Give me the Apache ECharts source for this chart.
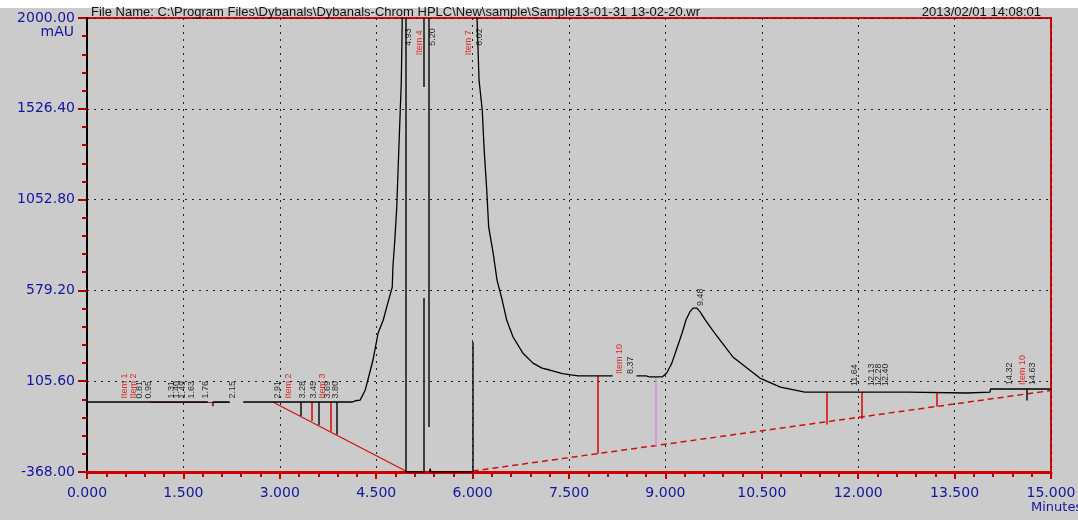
<!DOCTYPE html>
<html>
<head>
<meta charset="utf-8">
<title>HPLC chromatogram</title>
<script src="https://cdn.jsdelivr.net/npm/echarts@6/dist/echarts.min.js"></script>
<style>
  html, body { margin: 0; padding: 0; background: #cbcbcb; }
  #chart { width: 1078px; height: 520px; }
</style>
</head>
<body>
<div id="chart"></div>
<script>
// axis ticks (minutes / mAU)
var xTicks = [0, 1.5, 3, 4.5, 6, 7.5, 9, 10.5, 12, 13.5, 15];
var yTicks = [-368, 105.6, 579.2, 1052.8, 1526.4, 2000];

// detector trace, null = pen up
var traceTime = [
  0, 1.88, null, 1.96, 1.96, 2.22, null,
  2.43, 4.12, 4.20, 4.25, 4.33, 4.37, 4.45, 4.53, 4.61, 4.68, 4.75, 4.76, 4.79, 4.82, 4.85, 4.89, 4.90, 4.92, null,
  4.96, 5.24, null, 5.33, 5.34, 5.35, 6.00, null,
  6.06, 6.07, 6.10, 6.15, 6.18, 6.22, 6.25, 6.32, 6.38, 6.46, 6.53, 6.63, 6.78, 6.94, 7.08, 7.20, 7.40, 7.64, 8.18, null,
  8.55, 8.70, 8.75, 8.95, 9.02, 9.10, 9.17, 9.26, 9.32, 9.38, 9.43, 9.49, 9.54, 9.62, 9.73, 9.85, 10.05, 10.27, 10.47,
  10.79, 11.17, 12.77, 12.78, 13.69, 13.70, 14.05, 14.06, 15.0
];
var traceValue = [
  -3, -3, null, -25, -3, -3, null,
  -3, -3, 5, 7, 60, 112, 216, 357, 425, 513, 597, 701, 842, 1014, 1296, 1661, 1870, 2400, null,
  -368, -368, null, -368, -350, -368, -368, null,
  2300, 1990, 1677, 1520, 1312, 1103, 910, 774, 633, 529, 425, 336, 253, 200, 174, 164, 145, 133, 133, null,
  133, 133, 128, 128, 148, 200, 268, 357, 425, 467, 487, 487, 467, 425, 373, 320, 232, 174, 122,
  75, 49, 49, 44, 44, 49, 49, 65, 65
];

// vertical drop lines: time, top, bottom
var blackDropTime = [3.33, 3.61, 3.88, 4.96, 5.24, 5.24, 5.32, 6.00, 14.63];
var blackDropTop = [-3, -3, -3, 2000, 540, 2000, 2000, 310, 65];
var blackDropBottom = [-76, -123, -173, -368, -368, 1640, -133, -368, 5];
var redDropTime = [3.49, 3.79, 7.94, 11.51, 12.06, 13.23];
var redDropTop = [-3, -3, 133, 49, 49, 44];
var redDropBottom = [-102, -157, -272, -120, -92, -27];
var pinkDropTime = [8.85];
var pinkDropTop = [128];
var pinkDropBottom = [-232];

// integration baselines [start, end]
var baseSolid = [[[0.98, -3], [2.22, -3]], [[2.89, -3], [4.96, -363]]];
var baseDashed = [[[6.0, -363], [15.0, 57]]];

// peak annotations (rotated text)
var labelTime = [0.59, 0.72, 0.82, 0.95, 1.31, 1.40, 1.49, 1.63, 1.84, 2.27,
  2.97, 3.14, 3.35, 3.53, 3.66, 3.75, 3.86,
  5.01, 5.18, 5.37, 5.93, 6.11,
  8.28, 8.45, 9.54,
  11.95, 12.21, 12.32, 12.43,
  14.36, 14.55, 14.72];
var labelLevel = [10, 10, 10, 10, 10, 10, 10, 10, 10, 10,
  10, 10, 10, 10, 10, 10, 10,
  1850, 1800, 1850, 1800, 1850,
  138, 138, 493,
  75, 75, 75, 75,
  80, 80, 80];
var labelText = ['Item 1', 'Item 2', '0.81', '0.95', '1.31', '1.40', '1.49', '1.63', '1.76', '2.15',
  '2.91', 'Item 2', '3.28', '3.45', 'Item 3', '3.69', '3.80',
  '4.93', 'Item 4', '5.20', 'Item 7', '6.02',
  'Item 10', '8.37', '9.48',
  '11.64', '12.13', '12.28', '12.40',
  '14.32', 'Item 10', '14.63'];

function drops(time, top, bottom) {
  return time.map(function (t, i) { return { coords: [[t, top[i]], [t, bottom[i]]] }; });
}

var trace = traceTime.map(function (t, i) {
  return t === null ? ['-', '-'] : [t, traceValue[i]];
});

var labels = labelTime.map(function (t, i) {
  var isItem = labelText[i].indexOf('Item') === 0;
  return {
    value: [t, labelLevel[i]],
    label: { formatter: labelText[i], color: isItem ? '#e00000' : '#000' }
  };
});

var chart = echarts.init(document.getElementById('chart'));
var axisFont = { fontFamily: 'DejaVu Sans', fontSize: 14, color: '#1414a0' };
var headFont = { fontFamily: 'Liberation Sans', fontSize: 13, fontWeight: 'normal', color: '#111' };

chart.setOption({
  backgroundColor: '#cbcbcb',
  animation: false,
  title: [
    {
      text: 'File Name: C:\\Program Files\\Dybanals\\Dybanals-Chrom HPLC\\New\\sample\\Sample13-01-31 13-02-20.wr',
      left: 86, top: 1, textStyle: headFont
    },
    { text: '2013/02/01 14:08:01', right: 32, top: 1, textStyle: headFont }
  ],
  graphic: [
    { type: 'rect', left: 0, top: 0, z: -1, shape: { width: 1078, height: 8 }, style: { fill: '#ffffff' } },
    { type: 'text', right: 1078 - 74, top: 25, style: { text: 'mAU', font: '14px "DejaVu Sans"', fill: '#1414a0' } },
    { type: 'text', left: 1031, top: 501, style: { text: 'Minutes', font: '13px "DejaVu Sans"', fill: '#1414a0' } }
  ],
  grid: {
    left: 87, right: 27, top: 18, bottom: 48,
    outerBoundsMode: 'none',
    show: true, backgroundColor: 'transparent',
    borderColor: '#e00000', borderWidth: 2
  },
  xAxis: {
    type: 'value',
    min: xTicks[0], max: xTicks[xTicks.length - 1], interval: xTicks[1] - xTicks[0],
    axisLine: { show: true, onZero: false, lineStyle: { color: '#d00000', width: 3 } },
    axisTick: { show: true, length: 7, lineStyle: { color: '#c00000', width: 2 } },
    minorTick: { show: true, splitNumber: 5, length: 5, lineStyle: { color: '#c00000', width: 2 } },
    splitLine: { show: true, lineStyle: { color: '#222', type: [2, 5], width: 1 } },
    axisLabel: Object.assign({ margin: 14, formatter: function (v) { return v.toFixed(3); } }, axisFont)
  },
  yAxis: {
    type: 'value',
    min: yTicks[0], max: yTicks[yTicks.length - 1], interval: yTicks[1] - yTicks[0],
    axisLine: { show: true, onZero: false, lineStyle: { color: '#000', width: 2 } },
    axisTick: { show: true, length: 9, lineStyle: { color: '#b00000', width: 2 } },
    minorTick: { show: true, splitNumber: 5, length: 5, lineStyle: { color: '#b00000', width: 2 } },
    splitLine: { show: true, lineStyle: { color: '#222', type: [2, 5], width: 1 } },
    axisLabel: Object.assign({ margin: 12, formatter: function (v) { return v.toFixed(2); } }, axisFont)
  },
  series: [
    {
      name: 'baseline', type: 'lines', coordinateSystem: 'cartesian2d', silent: true, z: 3,
      lineStyle: { color: '#d01010', width: 1.2, opacity: 1 },
      data: baseSolid.map(function (c) { return { coords: c }; })
    },
    {
      name: 'baseline2', type: 'lines', coordinateSystem: 'cartesian2d', silent: true, z: 3,
      lineStyle: { color: '#d01010', width: 1.5, type: [6, 4], opacity: 1 },
      data: baseDashed.map(function (c) { return { coords: c }; })
    },
    {
      name: 'drop', type: 'lines', coordinateSystem: 'cartesian2d', silent: true, z: 4,
      lineStyle: { color: '#111', width: 1.5, opacity: 1 },
      data: drops(blackDropTime, blackDropTop, blackDropBottom)
    },
    {
      name: 'dropRed', type: 'lines', coordinateSystem: 'cartesian2d', silent: true, z: 4,
      lineStyle: { color: '#e00000', width: 1.5, opacity: 1 },
      data: drops(redDropTime, redDropTop, redDropBottom)
    },
    {
      name: 'dropPink', type: 'lines', coordinateSystem: 'cartesian2d', silent: true, z: 4,
      lineStyle: { color: '#d88cd8', width: 1.5, opacity: 1 },
      data: drops(pinkDropTime, pinkDropTop, pinkDropBottom)
    },
    {
      name: 'signal', type: 'line', showSymbol: false, silent: true, z: 5,
      connectNulls: false, clip: true,
      lineStyle: { color: '#000', width: 1.3 },
      data: trace
    },
    {
      name: 'peaks', type: 'scatter', symbolSize: 0, silent: true, z: 6,
      label: {
        show: true, position: 'top', distance: 1, rotate: 90,
        align: 'left', verticalAlign: 'middle',
        fontFamily: 'Liberation Sans', fontSize: 9
      },
      data: labels
    }
  ]
});
</script>
</body>
</html>
